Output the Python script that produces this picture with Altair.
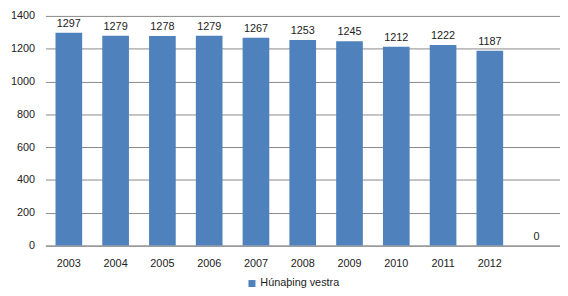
import altair as alt
import pandas as pd

years = ["2003", "2004", "2005", "2006", "2007", "2008", "2009", "2010", "2011", "2012", ""]
values = [1297, 1279, 1278, 1279, 1267, 1253, 1245, 1212, 1222, 1187, 0]
series = ["Húnaþing vestra"] * len(years)
y_ticks = [0, 200, 400, 600, 800, 1000, 1200, 1400]

df = pd.DataFrame({"year": years, "value": values, "series": series})

FONT = "Liberation Sans"

x = alt.X("year:N", sort=years, title=None,
          scale=alt.Scale(paddingInner=0.43, paddingOuter=0.215),
          axis=alt.Axis(labelAngle=0, labelFont=FONT, labelFontSize=11, labelColor="#222",
                        ticks=False, domainColor="#888", labelPadding=12))
y = alt.Y("value:Q", title=None,
          scale=alt.Scale(domain=[0, 1400], nice=False),
          axis=alt.Axis(values=y_ticks, format="d", labelOverlap=False,
                        labelFont=FONT, labelFontSize=11, labelColor="#222",
                        ticks=False, domain=False, gridColor="#888", gridWidth=1,
                        labelPadding=11))

base = alt.Chart(df).encode(x=x, y=y)

bars = base.mark_bar(color="#4F81BD").encode(
    color=alt.Color("series:N",
                    scale=alt.Scale(range=["#4F81BD"]),
                    legend=alt.Legend(title=None, orient="none", legendX=204, legendY=266,
                                      symbolType="square", symbolSize=50,
                                      symbolStrokeWidth=0,
                                      labelFont=FONT, labelFontSize=11, labelColor="#222",
                                      labelOffset=3)),
)

labels = base.mark_text(dy=-9, font=FONT, fontSize=11, color="#222").encode(
    text="value:Q",
)

chart = alt.layer(bars, labels).properties(
    width=522, height=233,
    autosize=alt.AutoSizeParams(type="none"),
    padding={"left": 38, "top": 6, "right": 0, "bottom": 41},
).configure_view(stroke=None)

chart.save("out.html", embed_options={"renderer": "svg", "actions": False})
